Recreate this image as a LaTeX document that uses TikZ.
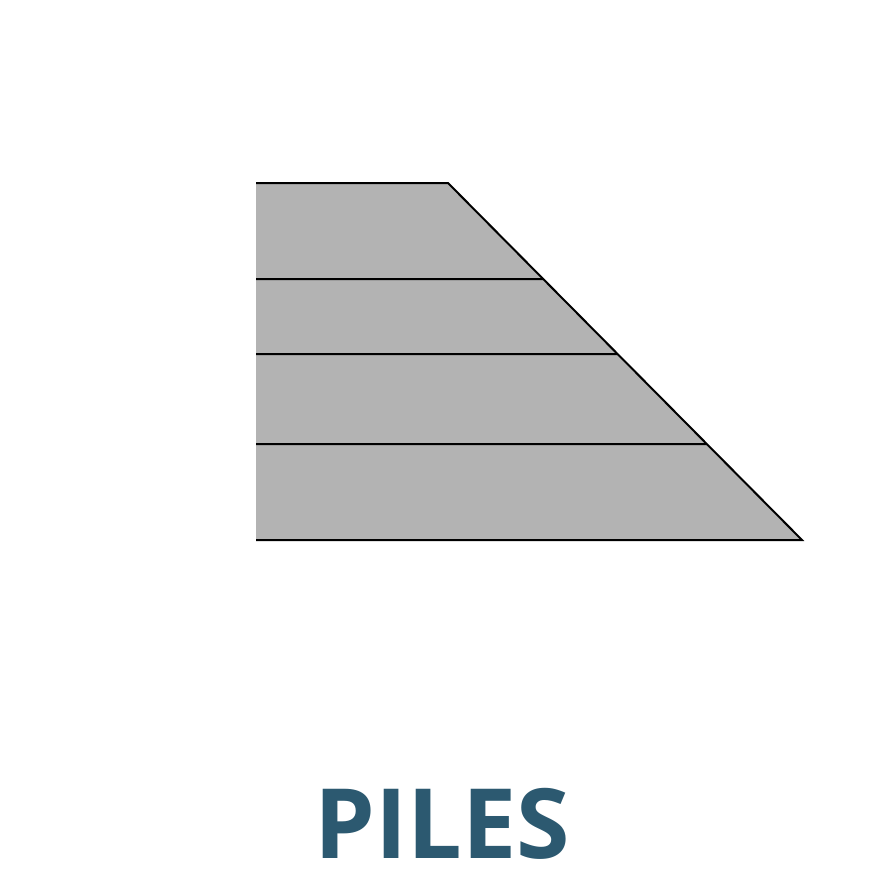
\documentclass[tikz,border=0pt]{standalone}
\usepackage{fontspec}
\newfontfamily\titlefont{Open Sans}
\usetikzlibrary{positioning,calc}
\definecolor{pilegray}{HTML}{B3B3B3}
\definecolor{titleblue}{HTML}{2C5970}
\tikzstyle{pileedge} = [draw=black, line width=2pt]
\tikzstyle{title} = [text=titleblue, font=\titlefont\bfseries\fontsize{97}{97}\selectfont, anchor=base, inner sep=0pt]

\begin{document}
\begin{tikzpicture}[x=1pt, y=-1pt]
    \useasboundingbox (0,0) rectangle (880,880);
    \coordinate (tl) at (256,183);
    \coordinate (tr) at (448,183);
    \coordinate (br) at (802,540);
    \coordinate (bl) at (256,540);

    \fill[pilegray] (tl) -- (tr) -- (br) -- (bl) -- cycle;

    \draw[pileedge] (tl) -- (tr) -- (br) -- (bl);
    \foreach \y in {279,354,444} {
        \draw[pileedge] (256,\y) -- ($(tr)!{(\y-183)/357}!(br)$);
    }

    \node[title] (piles) at (442,858) {PILES};
\end{tikzpicture}
\end{document}
